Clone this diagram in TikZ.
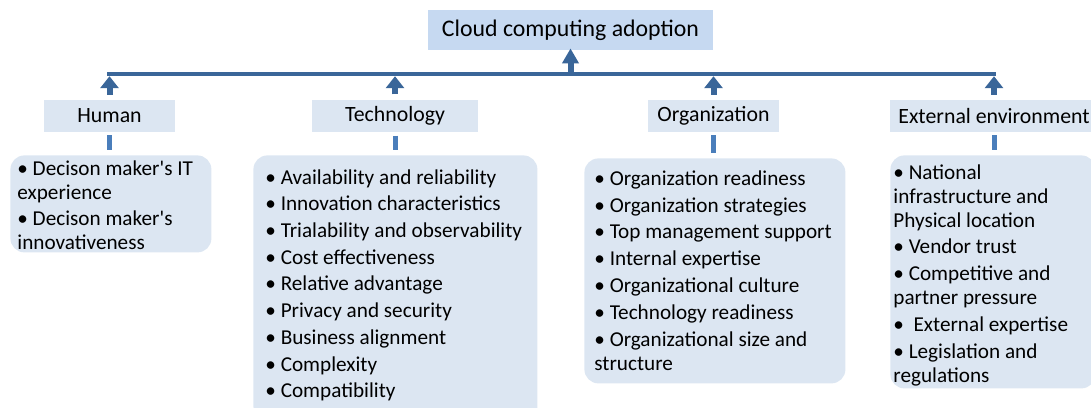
\documentclass[tikz,border=0pt]{standalone}
\usepackage{fontspec}
\setmainfont{Carlito}[Ligatures=TeXOff]
\usepackage{xcolor}
\usetikzlibrary{arrows.meta, positioning}
\definecolor{topfill}{HTML}{C6D9F1}
\definecolor{boxfill}{HTML}{DCE6F2}
\definecolor{linkblue}{HTML}{3A6699}
\definecolor{stubblue}{HTML}{4A7EBB}
\tikzset{
    goal/.style={rectangle, fill=topfill, minimum width=142.5pt, minimum height=20pt, text centered, font=\fontsize{11.9}{13}\selectfont},
    factor/.style={rectangle, fill=boxfill, minimum height=16pt, text centered, font=\fontsize{10.9}{12}\selectfont},
    listbox/.style={rectangle, rounded corners=7pt, fill=boxfill, anchor=north west},
    items/.style={anchor=north west, inner sep=0pt, align=left, font=\fontsize{10.6}{12}\selectfont},
    bar/.style={line width=2.25pt, color=linkblue, line cap=rect},
    uparrow/.style={-{Triangle[width=9pt,length=6pt]}, line width=3pt, color=linkblue, shorten <=2.5pt, shorten >=1.1pt},
    stub/.style={line width=2.5pt, color=stubblue, shorten <=1.5pt, shorten >=2.5pt}
}

\begin{document}
\begin{tikzpicture}[x=0.5pt, y=-0.5pt]
    \useasboundingbox (0,0) rectangle (1091,407);

    % Goal and factors
    \node[goal] (adoption) at (570.5,30) {Cloud computing adoption};
    \node[factor, minimum width=65.5pt] (human) at (109.5,116) {Human};
    \node[factor, minimum width=83pt] (tech) at (395,116) {Technology};
    \node[factor, minimum width=65.5pt] (org) at (713.5,116) {Organization};
    \node[factor, minimum width=104pt] (ext) at (994,116) {External environment};

    % Lists of sub-factors
    \node[listbox, minimum width=100.5pt, minimum height=48.5pt] (humanlist) at (10,155) {};
    \node[listbox, minimum width=142pt, minimum height=132.5pt] (techlist) at (253,155) {};
    \node[listbox, minimum width=130.5pt, minimum height=112.5pt] (orglist) at (584,158) {};
    \node[listbox, minimum width=102.5pt, minimum height=116.5pt] (extlist) at (890,155) {};

    \node[items] (humantext) at (17,160) {• Decison maker's IT\\ experience\\[1pt]
        • Decison maker's\\ innovativeness};
    \node[items] (techtext) at (265,169) {• Availability and reliability\\[1.35pt]
        • Innovation characteristics\\[1.35pt] • Trialability and observability\\[1.35pt]
        • Cost effectiveness\\[1.35pt] • Relative advantage\\[1.35pt]
        • Privacy and security\\[1.35pt] • Business alignment\\[1.35pt]
        • Complexity\\[1.35pt] • Compatibility};
    \node[items] (orgtext) at (594,170) {• Organization readiness\\[1.45pt]
        • Organization strategies\\[1.45pt] • Top management support\\[1.45pt]
        • Internal expertise\\[1.45pt] • Organizational culture\\[1.45pt]
        • Technology readiness\\[1.45pt] • Organizational size and\\ structure};
    \node[items] (exttext) at (893,164) {• National\\ infrastructure and\\ Physical location\\[1.4pt]
        • Vendor trust\\[1.4pt] • Competitive and\\ partner pressure\\[1.4pt]
        •\ \ External expertise\\[1.4pt] • Legislation and\\ regulations};

    % Connectors
    \coordinate (bar) at (0,74);
    \draw[bar] (human |- bar) -- (ext |- bar);
    \foreach \f in {human, tech, org, ext}
        \draw[uparrow] (\f.north) -- (\f |- bar);
    \draw[uparrow, -{Triangle[width=8pt,length=7.5pt]}, shorten <=0pt, shorten >=-1pt] (adoption.south |- bar) -- (adoption.south);
    \draw[stub] (human.south) -- (human.south |- humanlist.north);
    \draw[stub] (tech.south) -- (tech.south |- techlist.north);
    \draw[stub] (org.south) -- (org.south |- orglist.north);
    \draw[stub] (ext.south) -- (ext.south |- extlist.north);
\end{tikzpicture}
\end{document}
